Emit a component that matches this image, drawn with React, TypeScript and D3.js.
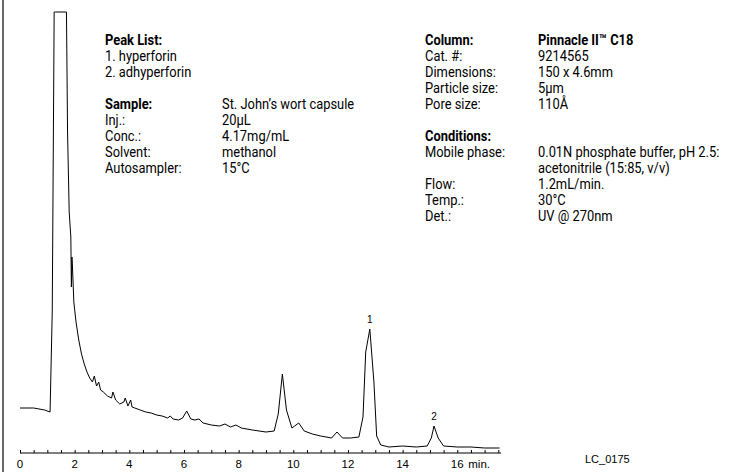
import { useEffect, useRef } from "react";
import * as d3 from "d3";

// retention time (min) and detector response (arbitrary units)
const times = [
  0, 0.5, 0.9, 1.1, 1.18, 1.25, 1.3, 1.7, 1.74, 1.8, 1.86, 1.88, 1.9, 1.92, 1.97, 2.05, 2.15,
  2.25, 2.35, 2.45, 2.55, 2.65, 2.72, 2.8, 2.88, 2.95, 3.05, 3.2, 3.35, 3.4, 3.5, 3.65, 3.8,
  3.85, 3.95, 4.05, 4.1, 4.2, 4.4, 4.6, 4.8, 5.0, 5.2, 5.4, 5.5, 5.6, 5.8, 5.95, 6.1, 6.25,
  6.4, 6.55, 6.7, 7.0, 7.3, 7.5, 7.7, 7.9, 8.1, 8.5, 9.0, 9.3, 9.45, 9.6, 9.75, 9.95, 10.05,
  10.2, 10.4, 10.7, 11.0, 11.4, 11.6, 11.8, 12.1, 12.4, 12.55, 12.65, 12.8, 12.95, 13.05,
  13.2, 13.5, 14.0, 14.5, 14.9, 15.05, 15.15, 15.3, 15.5, 16.0, 16.5, 17.0, 17.55,
];
const response = [
  54, 54, 52, 50, 150, 450, 450, 450, 330, 250, 225, 175, 205, 195, 160, 140, 122,
  108, 98, 90, 84, 80, 86, 76, 80, 72, 70, 66, 64, 70, 62, 58, 60,
  64, 56, 62, 55, 54, 52, 50, 49, 47, 46, 44, 46, 43, 42, 44, 51, 43,
  42, 43, 39, 37, 36, 38, 35, 37, 34, 32, 30, 31, 48, 88, 52, 34, 36,
  39, 31, 28, 26, 24, 30, 24, 24, 25, 45, 110, 133, 80, 26,
  17, 15, 16, 15, 16, 24, 36, 24, 16, 15, 15, 14, 14,
];
const peakLabels = [
  { t: 12.8, v: 133, text: "1" },
  { t: 15.15, v: 36, text: "2" },
];
const tickValues = [0, 2, 4, 6, 8, 10, 12, 14, 16];

const leftBlock: [string, string, boolean][] = [
  ["Peak List:", "", true],
  ["1. hyperforin", "", false],
  ["2. adhyperforin", "", false],
  ["", "", false],
  ["Sample:", "St. John\u2019s wort capsule", true],
  ["Inj.:", "20\u03bcL", false],
  ["Conc.:", "4.17mg/mL", false],
  ["Solvent:", "methanol", false],
  ["Autosampler:", "15\u00b0C", false],
];
const rightBlock: [string, string, boolean][] = [
  ["Column:", "Pinnacle II\u2122 C18", true],
  ["Cat. #:", "9214565", false],
  ["Dimensions:", "150 x 4.6mm", false],
  ["Particle size:", "5\u03bcm", false],
  ["Pore size:", "110\u00c5", false],
  ["", "", false],
  ["Conditions:", "", true],
  ["Mobile phase:", "0.01N phosphate buffer, pH 2.5:", false],
  ["", "acetonitrile (15:85, v/v)", false],
  ["Flow:", "1.2mL/min.", false],
  ["Temp.:", "30\u00b0C", false],
  ["Det.:", "UV @ 270nm", false],
];

const FONT = "Roboto, sans-serif";

export default function App() {
  const ref = useRef<SVGSVGElement | null>(null);

  useEffect(() => {
    if (!ref.current) return;
    const svg = d3.select(ref.current);
    svg.selectAll("*").remove();

    const x = d3.scaleLinear().domain([0, 17.6]).range([20, 501]);
    const y = d3.scaleLinear().domain([0, 450]).range([462, 12]);

    svg.append("rect").attr("width", 753).attr("height", 472).attr("fill", "#fff");
    svg.append("line").attr("x1", 3).attr("x2", 3).attr("y1", 0).attr("y2", 472)
      .attr("stroke", "#000").attr("stroke-width", 1.2);

    const pts = times.map((t, i) => [t, response[i]] as [number, number]);
    svg.append("path")
      .attr("d", d3.line().x((d) => x(d[0])).y((d) => y(d[1]))(pts))
      .attr("fill", "none").attr("stroke", "#000").attr("stroke-width", 1);

    svg.selectAll("text.pk").data(peakLabels).enter().append("text")
      .attr("x", (d) => x(d.t)).attr("y", (d) => y(d.v) - 6)
      .attr("text-anchor", "middle").attr("font-size", 10)
      .attr("font-family", "Arial, sans-serif").text((d) => d.text);

    const axis = d3.axisBottom(x).tickValues(d3.range(0, 17.6, 0.5))
      .tickSize(3).tickFormat(() => "");
    const g = svg.append("g").attr("transform", "translate(0,453)").call(axis);
    g.select(".domain").attr("d", `M${x(0)},0H${x(17.6)}`).attr("stroke-width", 1);
    g.selectAll(".tick line").attr("y1", -3).attr("y2", 0);

    svg.selectAll("text.tk").data(tickValues).enter().append("text")
      .attr("x", (d) => x(d)).attr("y", 468).attr("text-anchor", "middle")
      .attr("font-size", 11.5).attr("font-family", "Arial, sans-serif")
      .text((d) => String(d));
    svg.append("text").attr("x", x(16) + 11).attr("y", 468).attr("font-size", 11.5)
      .attr("font-family", "Arial, sans-serif").text("min.");
    svg.append("text").attr("x", 585).attr("y", 463).attr("font-size", 11)
      .attr("font-family", "Arial, sans-serif").text("LC_0175");

    const put = (txt: string, xx: number, yy: number, bold: boolean) => {
      svg.append("text").attr("transform", `translate(${xx},${yy}) scale(0.86,1)`)
        .attr("font-size", 15).attr("font-family", FONT)
        .attr("font-weight", bold ? "bold" : "normal").text(txt);
    };
    const block = (rows: [string, string, boolean][], x0: number, x1: number, y0: number) => {
      rows.forEach((r, i) => {
        const yy = y0 + i * 16;
        if (r[0]) put(r[0], x0, yy, r[2]);
        if (r[1]) put(r[1], x1, yy, r[2] && r[0] === "Column:");
      });
    };
    block(leftBlock, 105, 222, 45);
    block(rightBlock, 425, 538, 45);
  }, []);

  return (
    <svg ref={ref} width={753} height={472}
      style={{ position: "absolute", left: 0, top: 0 }} />
  );
}
